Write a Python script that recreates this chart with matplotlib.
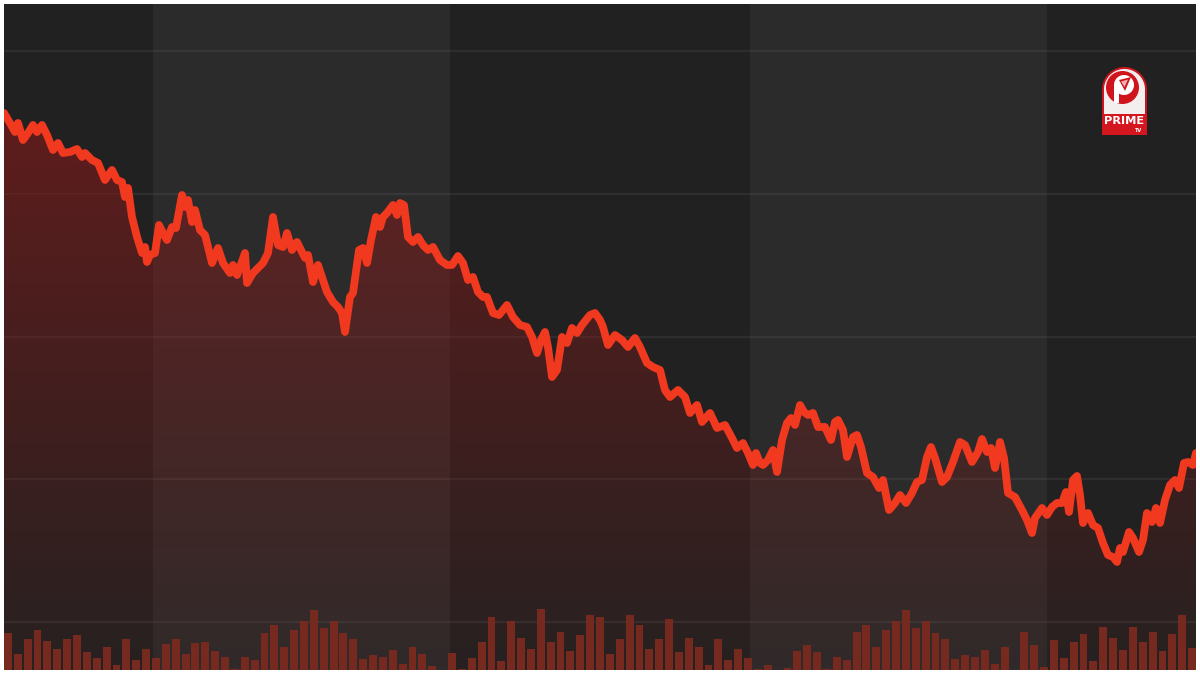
import numpy as np
import matplotlib
matplotlib.use("Agg")
import matplotlib.pyplot as plt
from matplotlib.patches import Polygon, Circle, Rectangle

# ---------------- data ----------------
days = [0, 6, 11, 14, 19, 24, 29, 33, 38, 43, 49, 54, 59, 66, 73, 78, 81, 88, 94, 101,
        108, 113, 118, 121, 124, 128, 133, 138, 141, 143, 146, 151, 155, 159, 163, 168, 172, 178, 181, 184,
        188, 191, 196, 201, 208, 214, 219, 226, 229, 233, 236, 241, 243, 249, 254, 259, 264, 269, 274, 279,
        283, 288, 293, 296,
        301, 304, 309, 314, 323, 329, 334, 338, 341, 346, 349, 355, 359, 363, 367, 372, 376, 379, 383, 389,
        393, 396, 400, 404, 409, 414, 419, 424, 429, 436, 443, 448, 454, 459, 464, 469, 474, 479, 483, 489,
        495, 503, 509, 516, 523, 528, 533, 537, 541, 544, 548, 553, 558, 563, 568, 573, 578, 586, 591, 596,
        599, 604, 611, 618, 624, 631, 636, 643, 649, 656, 661, 666, 674, 681, 686, 693, 698, 706, 713, 721,
        728, 733, 739, 744, 749, 752, 756, 759, 764, 769, 773, 778, 783, 787, 791, 796, 800, 804, 809, 814,
        821, 827, 831, 834, 839, 843, 849, 853, 857, 863, 869, 875, 879, 885, 891, 896,
        902, 908, 913, 918, 923, 927, 931, 938, 943, 949, 956, 961, 968, 974, 978, 983, 987, 991, 996, 1000,
        1004, 1011, 1018, 1023, 1028, 1031, 1038, 1043, 1048, 1053, 1058, 1062, 1065, 1069, 1073, 1076, 1079,
        1084, 1089, 1094, 1099, 1104, 1109, 1113, 1116, 1119, 1125, 1129, 1135, 1139, 1143, 1148, 1152, 1156,
        1161, 1166, 1171, 1175, 1180, 1184, 1189, 1192]

price = [557, 547, 538, 547, 530, 537, 545, 538, 545, 535, 520, 527, 517, 518, 521, 513, 517, 510, 507, 490,
         500, 490, 488, 473, 482, 453, 433, 417, 423, 408, 415, 417, 445, 437, 430, 443, 442, 475, 463, 470,
         448, 460, 440, 435, 407, 422, 407, 397, 405, 395, 403, 417, 387, 397, 402, 407, 417, 453, 425, 423,
         437, 420, 428, 422,
         412, 415, 388, 405, 378, 368, 363, 357, 338, 373, 377, 420, 422, 407, 430, 453, 443, 453, 457, 465,
         455, 467, 465, 433, 428, 433, 425, 420, 423, 410, 405, 405, 414, 407, 390, 393, 378, 373, 373, 357,
         355, 365, 353, 345, 343, 333, 317, 330, 338, 323, 293, 300, 333, 327, 342, 337, 345, 355, 357, 350,
         343, 325, 335, 330, 323, 332, 323, 307, 303, 300, 280, 273, 280, 273, 257, 265, 248, 257, 242, 245,
         232, 222, 227, 217, 205, 217, 207, 205, 210, 220, 198, 230, 247, 252, 245, 265, 258, 255, 257, 243,
         243, 230, 248, 250, 240, 213, 233, 235, 223, 197, 193, 182, 190, 160, 167, 175,
         167, 177, 188, 190, 213, 223, 212, 188, 193, 208, 228, 225, 208, 218, 231, 218, 222, 202, 228, 212,
         177, 173, 160, 150, 137, 152, 162, 155, 163, 167, 167, 178, 158, 190, 194, 175, 147,
         157, 145, 142, 127, 115, 113, 108, 122, 118, 138, 132, 118, 130, 157, 148, 162, 147,
         170, 185, 190, 182, 207, 208, 205, 217]

volume = [37, 16, 31, 40, 29, 21, 31, 35, 18, 12, 23, 5, 31, 10, 21, 12, 26, 31, 16, 27,
          28, 19, 13, 1, 13, 10, 37, 45, 23, 40, 49, 60, 42, 49, 37, 31, 11, 15, 13, 20,
          6, 23, 16, 4, 0, 17, 1, 12, 28, 53, 9, 49, 32, 21, 61, 28, 38, 19, 35, 55,
          53, 16, 31, 55, 45, 21, 31, 51, 18, 32, 23, 5, 31, 10, 21, 12, 1, 5, 0, 2,
          19, 25, 18, 1, 13, 10, 38, 45, 23, 40, 49, 60, 42, 49, 37, 31, 11, 15, 13, 20,
          6, 23, 0, 38, 25, 3, 30, 12, 28, 36, 9, 43, 32, 20, 43, 28, 38, 19, 36, 55,
          22]

band_edges = [0, 149, 446, 746, 1043, 1192]
grid_levels = [48, 191, 333, 476, 619]

# ---------------- figure ----------------
W, H = 1200, 675
fig = plt.figure(figsize=(12, 6.75), dpi=100, facecolor="white")
rect = [4 / W, 5 / H, 1192 / W, 666 / H]
ax = fig.add_axes(rect)
ax.axis("off")

band_colors = ["#212121", "#2b2b2b"]
for i in range(len(band_edges) - 1):
    ax.axvspan(band_edges[i], band_edges[i + 1], color=band_colors[i % 2], lw=0, zorder=0)

for g in grid_levels:
    ax.axhline(g, color="white", alpha=0.06, lw=1.6, zorder=1)

# gradient fill under line
n = 256
frac = np.linspace(0, 1, n)[:, None]
rgba = np.zeros((n, 1, 4))
rgba[..., 0] = 0.56
rgba[..., 1] = 0.10
rgba[..., 2] = 0.10
rgba[..., 3] = 0.056 + 0.62 * frac
im = ax.imshow(rgba, extent=[0, 1192, 0, 666], origin="lower", aspect="auto",
               interpolation="bilinear", zorder=2)
poly = Polygon(np.column_stack([np.r_[days[0], days, days[-1]], np.r_[0, price, 0]]),
               closed=True, facecolor="none", edgecolor="none")
ax.add_patch(poly)
im.set_clip_path(poly)

ax.plot(days, price, color="#f0391f", lw=5.6, solid_joinstyle="round",
        solid_capstyle="round", zorder=5)
ax.set_xlim(0, 1192)
ax.set_ylim(0, 666)

# volume bars
axv = fig.add_axes(rect)
axv.axis("off")
axv.bar(np.arange(len(volume)), volume, width=0.8, color="#76291f", lw=0)
axv.set_xlim(-0.4, len(volume) - 0.6)
axv.set_ylim(0, 666)

# ---------------- logo ----------------
axl = fig.add_axes([1100 / W, 1 - 137 / H, 49 / W, 73 / H])
axl.set_xlim(0, 49)
axl.set_ylim(73, 0)
axl.axis("off")

def arch(x0, x1, ytop, ybot):
    r = (x1 - x0) / 2
    cx = (x0 + x1) / 2
    cy = ytop + r
    ang = np.linspace(np.pi, 0, 60)
    pts = [(cx + r * np.cos(a), cy - r * np.sin(a)) for a in ang]
    pts += [(x1, ybot), (x0, ybot)]
    return pts

axl.add_patch(Polygon(arch(2, 47, 3, 71), closed=True, facecolor="#c9151c", edgecolor="none"))
axl.add_patch(Polygon(arch(4, 45, 5, 69), closed=True, facecolor="#f4efef", edgecolor="none"))
axl.add_patch(Circle((22.5, 23.5), 16.5, facecolor="#d0141c", edgecolor="none"))
axl.add_patch(Circle((24.0, 21.0), 10.0, facecolor="white", edgecolor="none"))
axl.add_patch(Rectangle((13.5, 22), 5, 17, facecolor="white", edgecolor="none"))
axl.add_patch(Polygon([(19, 16), (31, 13), (25, 27)], closed=True, facecolor="#d0141c", edgecolor="none"))
axl.add_patch(Polygon([(21, 17.5), (28, 15.5), (24.5, 23)], closed=True, facecolor="#f0b0b0", edgecolor="none"))
axl.add_patch(Rectangle((2, 50), 45, 21, facecolor="#d4171f", edgecolor="none"))
axl.text(24.5, 57.5, "PRIME", color="white", fontsize=8.2, fontweight="bold",
         ha="center", va="center", family="DejaVu Sans")
axl.text(38.5, 66.5, "TV", color="white", fontsize=3.5, fontweight="bold",
         ha="center", va="center", family="DejaVu Sans")

fig.savefig("out.png", dpi=100, facecolor="white")
